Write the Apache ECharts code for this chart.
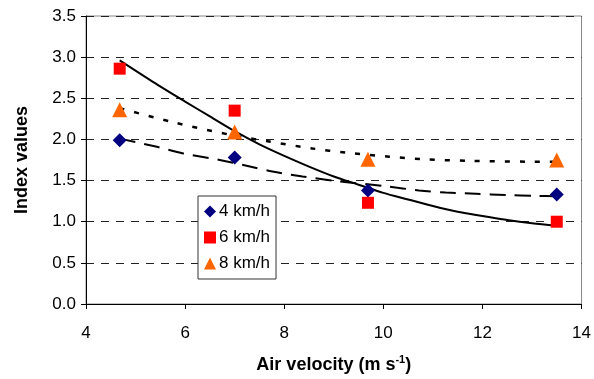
<!DOCTYPE html>
<html>
<head>
<meta charset="utf-8">
<script src="https://cdn.jsdelivr.net/npm/echarts@6/dist/echarts.min.js"></script>
<style>html,body{margin:0;padding:0;background:#fff;}#c{width:594px;height:379px;}</style>
</head>
<body>
<div id="c"></div>
<script>
// Measured data points (x = air velocity, y = index value)
const airVelocity = [4.68, 7.0, 9.69, 13.5];
const idx4 = [1.99, 1.78, 1.38, 1.33];
const idx6 = [2.86, 2.35, 1.23, 1.00];
const idx8 = [2.36, 2.09, 1.76, 1.75];
const seriesNames = ['4 km/h', '6 km/h', '8 km/h'];

// Trend lines
const trend4X = [4.68, 5.43, 5.96, 6.7, 7.24, 7.76, 8.37, 8.97, 10.06, 10.72, 11.26, 11.87, 12.47, 13.07, 13.5];
const trend4Y = [2.01, 1.91, 1.83, 1.75, 1.68, 1.61, 1.55, 1.50, 1.43, 1.38, 1.355, 1.34, 1.325, 1.315, 1.31];
const trend6X = [4.68, 5.35, 6.0, 6.5, 7.0, 7.5, 8.0, 8.5, 9.0, 9.5, 10.0, 10.5, 11.0, 11.5, 12.0, 12.5, 13.0, 13.5];
const trend6Y = [2.96, 2.70, 2.46, 2.28, 2.10, 1.94, 1.80, 1.67, 1.55, 1.45, 1.35, 1.27, 1.19, 1.12, 1.07, 1.02, 0.98, 0.95];
const trend8X = [4.68, 5.75, 6.96, 7.64, 8.57, 9.25, 10.12, 10.78, 11.73, 12.93, 13.5];
const trend8Y = [2.38, 2.21, 2.05, 1.98, 1.89, 1.84, 1.79, 1.76, 1.74, 1.73, 1.73];

const xTicks = {min: 4, max: 14, interval: 2};
const yTicks = {min: 0, max: 3.5, interval: 0.5};

const zip = (a, b) => a.map((v, i) => [v, b[i]]);
const font = "'Liberation Sans', Arial, sans-serif";

const chart = echarts.init(document.getElementById('c'), null, {renderer: 'canvas'});
chart.setOption({
  animation: false,
  backgroundColor: '#fff',
  grid: {left: 86, right: 11, top: 16, bottom: 75, show: true, borderColor: '#888', borderWidth: 1},
  legend: {
    data: seriesNames,
    orient: 'vertical',
    left: 198, top: 196,
    padding: [7, 6, 7, 6],
    itemGap: 9,
    itemWidth: 12, itemHeight: 12,
    borderColor: '#333', borderWidth: 1, backgroundColor: '#fff',
    textStyle: {fontFamily: font, fontSize: 17, color: '#000', padding: [0, 0, 0, -2]}
  },
  xAxis: {
    type: 'value', min: xTicks.min, max: xTicks.max, interval: xTicks.interval,
    name: 'Air velocity (m s{sup|-1})', nameLocation: 'middle', nameGap: 50,
    nameTextStyle: {fontFamily: font, fontSize: 18, fontWeight: 'bold', color: '#000',
      rich: {sup: {fontFamily: font, fontSize: 11, fontWeight: 'bold', color: '#000', verticalAlign: 'bottom', padding: [0, 0, 11, 0]}}},
    axisLine: {lineStyle: {color: '#000', width: 1}},
    axisTick: {show: true, length: 5, lineStyle: {color: '#000'}},
    axisLabel: {fontFamily: font, fontSize: 17, color: '#000', margin: 21},
    splitLine: {show: false}
  },
  yAxis: {
    type: 'value', min: yTicks.min, max: yTicks.max, interval: yTicks.interval,
    name: 'Index values', nameLocation: 'middle', nameGap: 55,
    nameTextStyle: {fontFamily: font, fontSize: 18, fontWeight: 'bold', color: '#000'},
    axisLine: {show: true, lineStyle: {color: '#000', width: 1}},
    axisTick: {show: true, length: 5, lineStyle: {color: '#000'}},
    axisLabel: {fontFamily: font, fontSize: 17, color: '#000', margin: 10, formatter: v => v.toFixed(1)},
    splitLine: {show: true, lineStyle: {color: '#222', type: [8, 7], width: 1}}
  },
  series: [
    {name: 't4', type: 'line', data: zip(trend4X, trend4Y), showSymbol: false, smooth: 0.3,
      lineStyle: {color: '#000', width: 2, type: [16, 9]}, z: 2, silent: true},
    {name: 't6', type: 'line', data: zip(trend6X, trend6Y), showSymbol: false, smooth: 0.3,
      lineStyle: {color: '#000', width: 2, type: 'solid'}, z: 2, silent: true},
    {name: 't8', type: 'line', data: zip(trend8X, trend8Y), showSymbol: false, smooth: 0.3,
      lineStyle: {color: '#000', width: 2.5, type: [5, 10]}, z: 2, silent: true},
    {name: seriesNames[0], type: 'scatter', data: zip(airVelocity, idx4), symbol: 'diamond', symbolSize: 14,
      itemStyle: {color: '#000080', opacity: 1}, z: 3},
    {name: seriesNames[1], type: 'scatter', data: zip(airVelocity, idx6), symbol: 'rect', symbolSize: 12,
      itemStyle: {color: '#FF0000', opacity: 1}, z: 3},
    {name: seriesNames[2], type: 'scatter', data: zip(airVelocity, idx8), symbol: 'triangle', symbolSize: 15,
      itemStyle: {color: '#FF6600', opacity: 1}, z: 3}
  ]
});
</script>
</body>
</html>
